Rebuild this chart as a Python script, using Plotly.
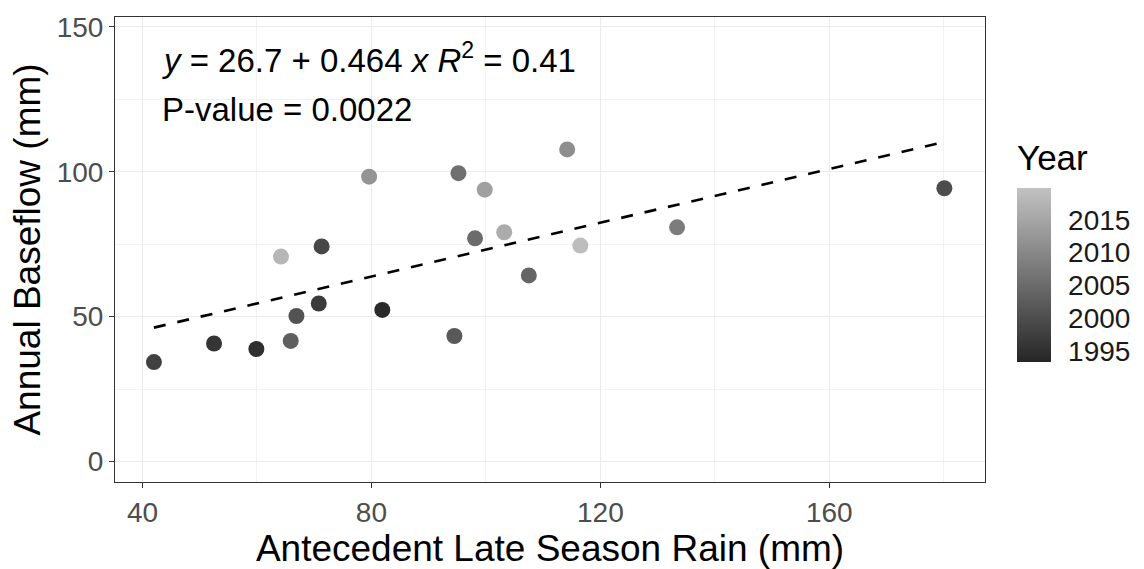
import plotly.graph_objects as go

# Data
rain_mm = [42.0, 52.5, 59.9, 65.9, 66.9, 70.8, 71.3, 64.2, 79.6, 81.9,
           94.5, 95.2, 99.8, 98.1, 103.2, 107.5, 114.2, 116.5, 133.4, 180.1]
baseflow_mm = [34.3, 40.7, 38.8, 41.6, 50.2, 54.5, 74.2, 70.7, 98.3, 52.3,
               43.3, 99.5, 93.8, 77.0, 79.1, 64.2, 107.7, 74.5, 80.8, 94.3]
years = [1998, 1996, 1995, 2003, 2001, 1997, 1999, 2018, 2012, 1994,
         2002, 2006, 2014, 2005, 2016, 2004, 2011, 2019, 2008, 2000]

intercept = 26.7
slope = 0.464
r_squared = "0.41"
p_value = "0.0022"

x_ticks = [40, 80, 120, 160]
y_ticks = [0, 50, 100, 150]
year_ticks = [1995, 2000, 2005, 2010, 2015]

FONT = "Liberation Sans, Arial, sans-serif"

fit_x = [min(rain_mm), max(rain_mm)]
fit_y = [intercept + slope * v for v in fit_x]

fig = go.Figure()

fig.add_trace(go.Scatter(
    x=fit_x, y=fit_y, mode="lines",
    line=dict(color="black", width=2.6, dash="12px,12px"),
    showlegend=False, hoverinfo="skip",
))

fig.add_trace(go.Scatter(
    x=rain_mm, y=baseflow_mm, mode="markers",
    marker=dict(
        size=16, color=years,
        colorscale=[[0, "#262626"], [1, "#c2c2c2"]],
        cmin=1993.4, cmax=2019.8,
        line=dict(width=0),
        showscale=True,
        colorbar=dict(
            thickness=34, thicknessmode="pixels",
            len=174, lenmode="pixels",
            x=1.0364, xanchor="left",
            y=0.445, yanchor="middle",
            outlinewidth=0,
            tickvals=year_ticks,
            ticks="outside", ticklen=12, tickcolor="rgba(255,255,255,0)", tickwidth=1,
            tickfont=dict(family=FONT, size=28, color="#1a1a1a"),
            xpad=0, ypad=0,
        ),
    ),
    showlegend=False,
))

fig.add_annotation(
    x=43.0, y=139.3, xref="x", yref="y", xanchor="left", yanchor="middle",
    text=f"<i>y</i> = {intercept} + {slope} <i>x</i> <i>R</i><sup>2</sup> = {r_squared}",
    showarrow=False, font=dict(family=FONT, size=33, color="black"),
)
fig.add_annotation(
    x=43.0, y=121.6, xref="x", yref="y", xanchor="left", yanchor="middle",
    text=f"P-value = {p_value}",
    showarrow=False, font=dict(family=FONT, size=33, color="black"),
)
fig.add_annotation(
    x=1.0345, y=(488 - 156) / 476, xref="paper", yref="paper",
    xanchor="left", yanchor="middle",
    text="Year", showarrow=False, font=dict(family=FONT, size=35, color="black"),
)

axis_common = dict(
    showline=True, mirror=True, linecolor="#333333", linewidth=1,
    ticks="outside", ticklen=5, tickcolor="#333333", tickwidth=1,
    showgrid=True, gridcolor="#ebebeb", gridwidth=1.3,
    zeroline=False,
    tickfont=dict(family=FONT, size=28, color="#4d4d4d"),
)

fig.update_layout(
    width=1144, height=569,
    margin=dict(l=115, r=159, t=12, b=81),
    paper_bgcolor="white", plot_bgcolor="white",
    font=dict(family=FONT),
    xaxis=dict(
        range=[35.2, 187.2], tickvals=x_ticks,
        minor=dict(dtick=20, tick0=0, showgrid=True, gridcolor="#f2f2f2", gridwidth=0.8, ticks=""),
        title=dict(text="Antecedent Late Season Rain (mm)", standoff=4,
                   font=dict(family=FONT, size=37, color="black")),
        **axis_common,
    ),
    yaxis=dict(
        range=[-7.1, 153.4], tickvals=y_ticks,
        minor=dict(dtick=25, tick0=0, showgrid=True, gridcolor="#f2f2f2", gridwidth=0.8, ticks=""),
        title=dict(text="Annual Baseflow (mm)", standoff=4,
                   font=dict(family=FONT, size=37, color="black")),
        **axis_common,
    ),
)

fig.write_html("out.html")
